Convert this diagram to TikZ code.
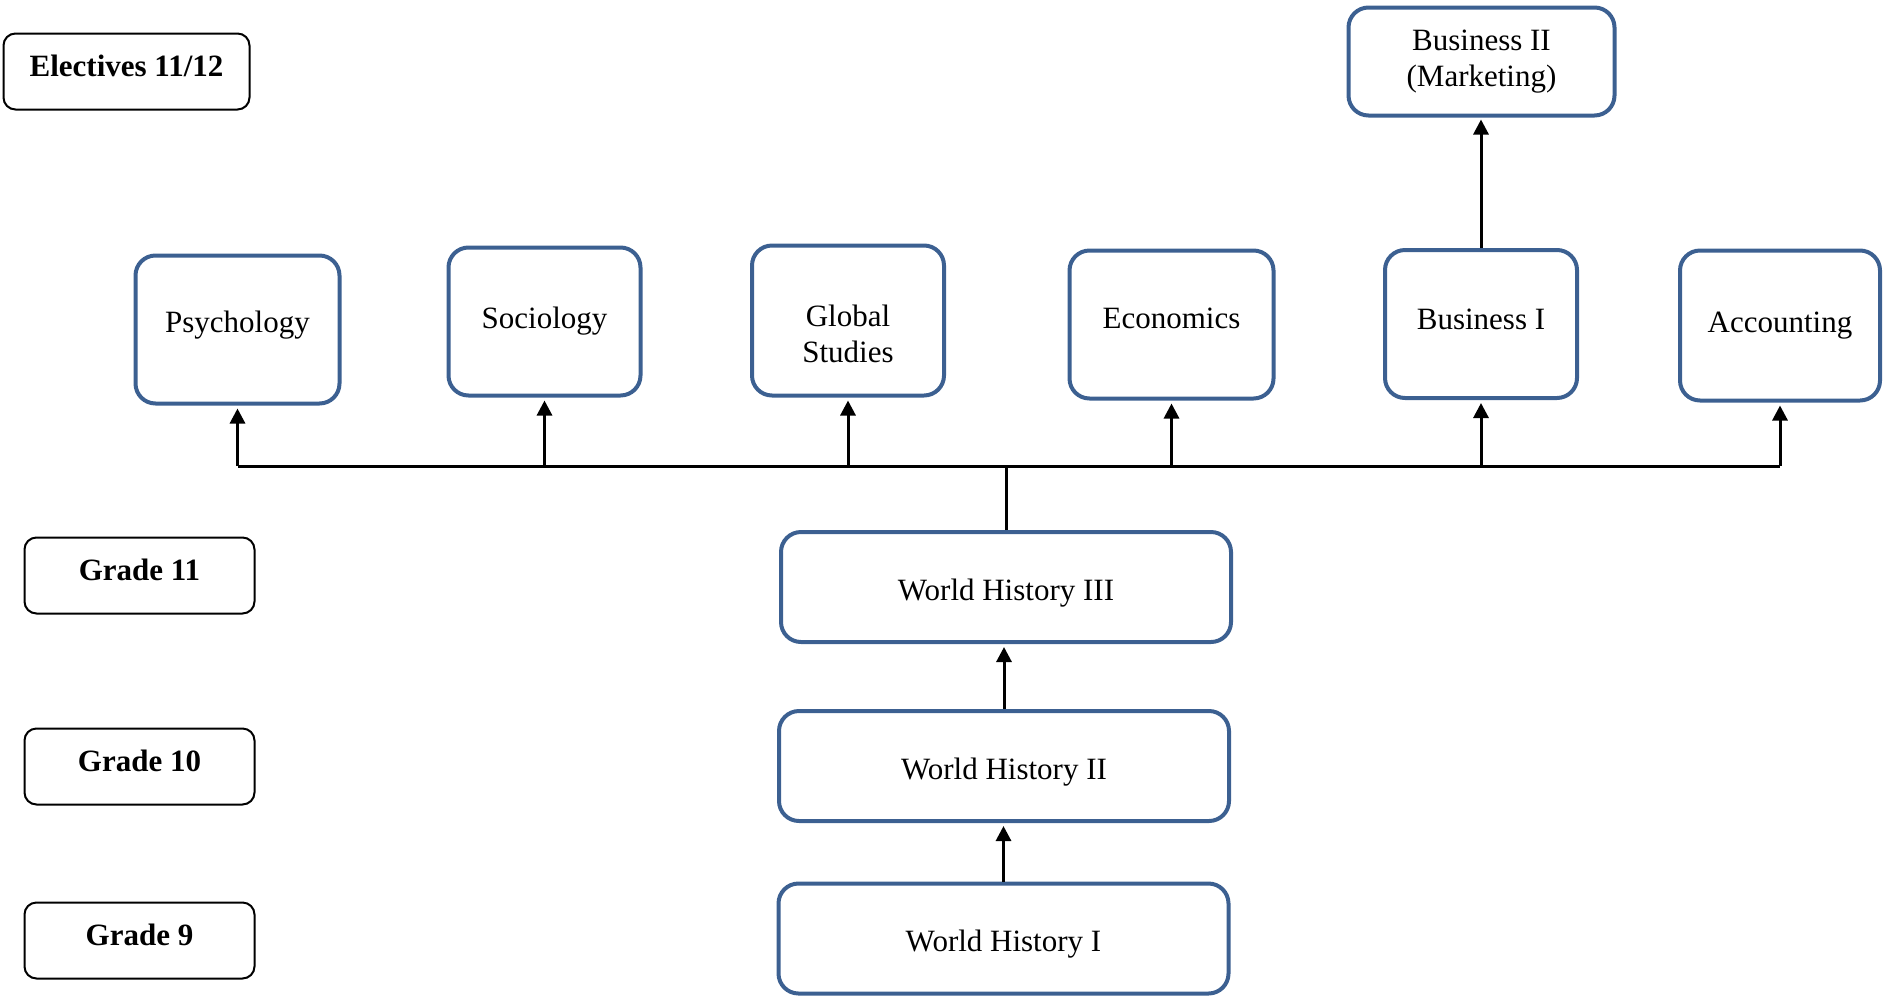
\documentclass[tikz,border=0pt]{standalone}
\usepackage{fontspec}
\setmainfont{Liberation Serif}
\usetikzlibrary{
	arrows.meta,
	calc
}
\definecolor{boxblue}{RGB}{60,96,145}
\tikzset{
    course/.style={draw=boxblue, line width=2pt, rounded corners=10pt, align=center,
                   font=\fontsize{15.5}{18}\selectfont},
    grade/.style={draw=black, line width=1pt, rounded corners=6pt,
                  minimum width=115pt, minimum height=38pt,
                  text height=9.3pt, text depth=4.7pt,
                  font=\fontsize{15.5}{18}\selectfont\bfseries},
    tbox/.style 2 args={text height=#1, text depth=#2},
    link/.style={line width=1.5pt, >={Triangle[length=7.5pt,width=7.5pt]}}
}

\begin{document}
\begin{tikzpicture}[x=0.5pt, y=-0.5pt]
    \useasboundingbox (0,0) rectangle (1884,997);
    % Grade labels
    \node[grade, minimum width=123pt] (elec) at (126.5,71.5)  {Electives 11/12};
    \node[grade]                      (g11)  at (139.5,575.5) {Grade 11};
    \node[grade]                      (g10)  at (139.5,766.5) {Grade 10};
    \node[grade]                      (g9)   at (139.5,940.5) {Grade 9};
    % Core courses
    \node[course, tbox={13.6pt}{0.4pt}, minimum width=225pt, minimum height=55pt] (wh3) at (1006,587)     {World History III};
    \node[course, tbox={13.6pt}{0.4pt}, minimum width=225pt, minimum height=55pt] (wh2) at (1004,766)     {World History II};
    \node[course, tbox={13.6pt}{0.4pt}, minimum width=225pt, minimum height=55pt] (wh1) at (1003.5,938.5) {World History I};
    % Electives
    \node[course, tbox={8.3pt}{5.7pt},  minimum width=102pt, minimum height=74pt] (psy)  at (237.5,329.5)  {Psychology};
    \node[course,                       minimum width=96pt,  minimum height=74pt] (soc)  at (544.5,321.5)  {Sociology};
    \node[course, tbox={42pt}{0pt},     minimum width=96pt,  minimum height=75pt] (glob) at (848,320.5)    {Global\\Studies};
    \node[course, tbox={8.9pt}{5.1pt},  minimum width=102pt, minimum height=74pt] (econ) at (1171.5,324.5) {Economics};
    \node[course, tbox={9.5pt}{4.5pt},  minimum width=96pt,  minimum height=74pt] (busi) at (1481,324)     {Business I};
    \node[course,                       minimum width=100pt, minimum height=75pt] (acc)  at (1780,325.5)   {Accounting};
    \node[course,                       minimum width=133pt, minimum height=54pt] (bus2) at (1481.5,61.5)  {Business II\\(Marketing)};
    % Arrows
    \coordinate (bus) at (1006,466);
    \draw[link, ->, shorten >=1.5pt] (wh1.north) -- (wh1.north |- wh2.south);
    \draw[link, ->, shorten >=1.5pt] (wh2.north) -- (wh2.north |- wh3.south);
    \draw[link] (wh3) -- (bus);
    \draw[link] (bus -| psy.south) -- (bus -| acc.south);
    \foreach \n in {psy,soc,glob,econ,busi,acc}
        \draw[link, ->, shorten >=1.5pt] (bus -| \n.south) -- (\n.south);
    \draw[link, ->, shorten >=1pt] (busi.north) -- (busi.north |- bus2.south);
\end{tikzpicture}
\end{document}
